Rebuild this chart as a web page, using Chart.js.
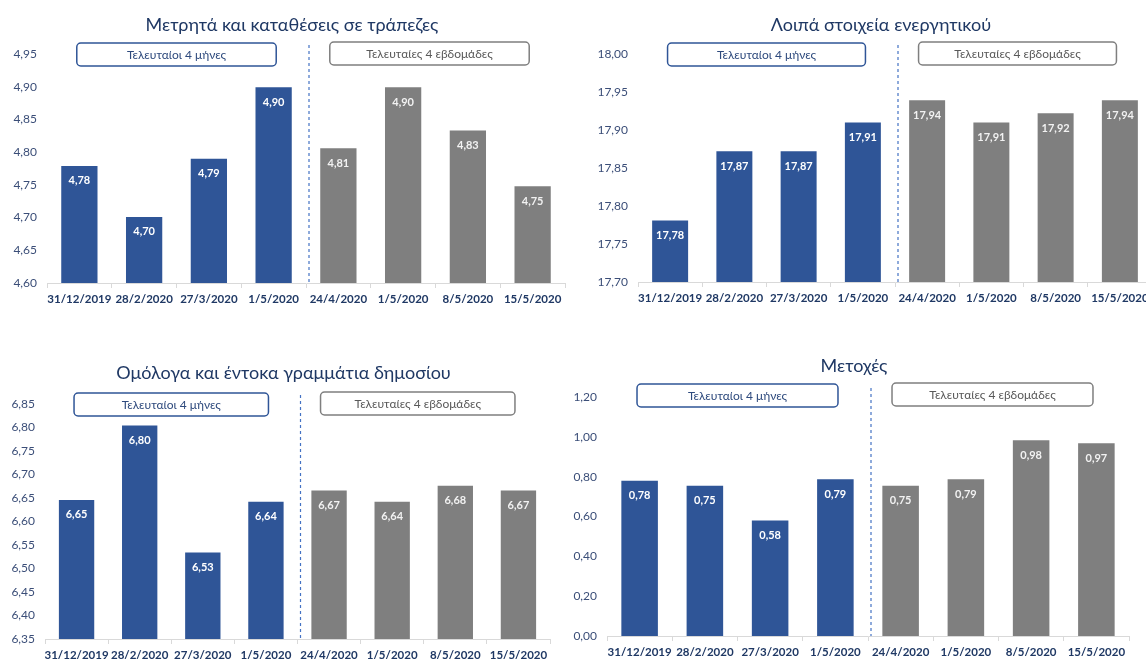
<!DOCTYPE html>
<html>
<head>
<meta charset="utf-8">
<script src="https://cdn.jsdelivr.net/npm/chart.js@4.4.1/dist/chart.umd.min.js"></script>
<style>
  html,body{margin:0;padding:0;background:#fff;width:1146px;height:661px;overflow:hidden;}
  canvas{position:absolute;}
</style>
</head>
<body>
<canvas id="c1" width="573" height="313" style="left:0;top:0"></canvas>
<canvas id="c2" width="570" height="312" style="left:590px;top:0"></canvas>
<canvas id="c3" width="560" height="329" style="left:0;top:340px"></canvas>
<canvas id="c4" width="586" height="326" style="left:560px;top:340px"></canvas>
<script>
// ---- data (billions €) ----
const dates = ['31/12/2019','28/2/2020','27/3/2020','1/5/2020','24/4/2020','1/5/2020','8/5/2020','15/5/2020'];
const cashDeposits = [4.779, 4.701, 4.790, 4.899, 4.806, 4.899, 4.833, 4.748];
const otherAssets  = [17.781, 17.872, 17.872, 17.910, 17.939, 17.910, 17.922, 17.939];
const bonds        = [6.646, 6.804, 6.534, 6.642, 6.666, 6.642, 6.676, 6.666];
const shares       = [0.780, 0.754, 0.580, 0.787, 0.754, 0.787, 0.983, 0.968];
const chartTitles  = ['Μετρητά και καταθέσεις σε τράπεζες','Λοιπά στοιχεία ενεργητικού','Ομόλογα και έντοκα γραμμάτια δημοσίου','Μετοχές'];
const periodLabels = ['Τελευταίοι 4 μήνες','Τελευταίες 4 εβδομάδες'];
const yMin  = [4.60, 17.70, 6.35, 0];
const yMax  = [4.95, 18.00, 6.85, 1.20];
const yStep = [0.05, 0.05, 0.05, 0.20];

const BLUE = '#2F5597', GREY = '#7F7F7F', NAVY = '#1F3864';
const FONT = "Lato, 'Noto Sans', sans-serif";
const fmt = v => v.toFixed(2).replace('.', ',');

// dashed separator, period boxes, titles and bar value labels
const decorPlugin = {
  id:'decor',
  afterDatasetsDraw(chart, args, opts){
    const ctx = chart.ctx, a = chart.chartArea;
    const bars = chart.getDatasetMeta(0).data;
    ctx.save();
    // values inside bars
    ctx.font = "bold 11px " + FONT;
    ctx.textAlign = 'center'; ctx.textBaseline = 'middle';
    bars.forEach((b,i)=>{
      ctx.fillStyle = i < 4 ? '#FFFFFF' : '#F2F2F2';
      ctx.fillText(fmt(chart.data.datasets[0].data[i]), b.x, b.y + 15);
    });
    // dashed line between the two periods
    const step = bars[1].x - bars[0].x;
    const sx = (bars[3].x + bars[4].x)/2 + 3;
    ctx.strokeStyle = '#4472C4'; ctx.lineWidth = 1.2; ctx.setLineDash([3,3]);
    ctx.beginPath(); ctx.moveTo(sx, a.top - 9); ctx.lineTo(sx, a.bottom); ctx.stroke();
    ctx.setLineDash([]);
    // period boxes
    const bw = step*3.08, bh = 23;
    const groups = [
      { cx:(bars[1].x+bars[2].x)/2, y:a.top-11+opts.boxDy, stroke:BLUE, color:'#2E4A7D', text:periodLabels[0] },
      { cx:(bars[5].x+bars[6].x)/2 - 6, y:a.top-12+opts.boxDy, stroke:'#7F7F7F', color:'#595959', text:periodLabels[1] }
    ];
    ctx.font = "12px " + FONT;
    groups.forEach(g=>{
      ctx.beginPath();
      ctx.roundRect(g.cx - bw/2, g.y, bw, bh, 4);
      ctx.fillStyle = '#fff'; ctx.fill();
      ctx.lineWidth = 1.5; ctx.strokeStyle = g.stroke; ctx.stroke();
      ctx.fillStyle = g.color;
      ctx.fillText(g.text, g.cx, g.y + bh/2 + 1);
    });
    // title
    ctx.font = "18px " + FONT;
    ctx.fillStyle = NAVY;
    ctx.fillText(opts.title, (a.left + a.right)/2 - 14, a.top + opts.titleDy);
    ctx.restore();
  }
};

function buildChart(id, k, values, layout){
  new Chart(document.getElementById(id), {
    type:'bar',
    data:{ labels:dates, datasets:[{
      data:values,
      backgroundColor: values.map((v,i)=> i < 4 ? BLUE : GREY),
      categoryPercentage:1, barPercentage:0.56
    }]},
    options:{
      responsive:false, animation:false,
      layout:{ padding:{ top:layout.top, right:layout.right, left:0, bottom:0 } },
      plugins:{
        legend:{ display:false }, tooltip:{ enabled:false },
        decor:{ title:chartTitles[k], titleDy:layout.titleDy, boxDy:layout.boxDy }
      },
      scales:{
        x:{
          grid:{ display:true, drawOnChartArea:false, color:'#D9D9D9', tickLength:5 },
          border:{ color:'#D9D9D9' },
          ticks:{ color:NAVY, font:{ family:FONT, size:11.5, weight:'bold' }, padding:4, maxRotation:0, autoSkip:false },
          afterFit(s){ s.height = 30; }
        },
        y:{
          min:yMin[k], max:yMax[k],
          grid:{ display:false, drawTicks:false }, border:{ display:false },
          ticks:{ stepSize:yStep[k], color:'#3B4E78', font:{ family:FONT, size:12 }, padding:10, callback:v=>fmt(v) },
          afterFit(s){ s.width = layout.left; }
        }
      }
    },
    plugins:[decorPlugin]
  });
}

buildChart('c1', 0, cashDeposits, { top:54, left:47, right:8, titleDy:-29, boxDy:0 });
buildChart('c2', 1, otherAssets,  { top:54, left:48, right:8, titleDy:-29, boxDy:0 });
buildChart('c3', 2, bonds,        { top:64, left:45, right:10, titleDy:-31, boxDy:0 });
buildChart('c4', 3, shares,       { top:57, left:47, right:17, titleDy:-31, boxDy:-2 });
</script>
</body>
</html>
